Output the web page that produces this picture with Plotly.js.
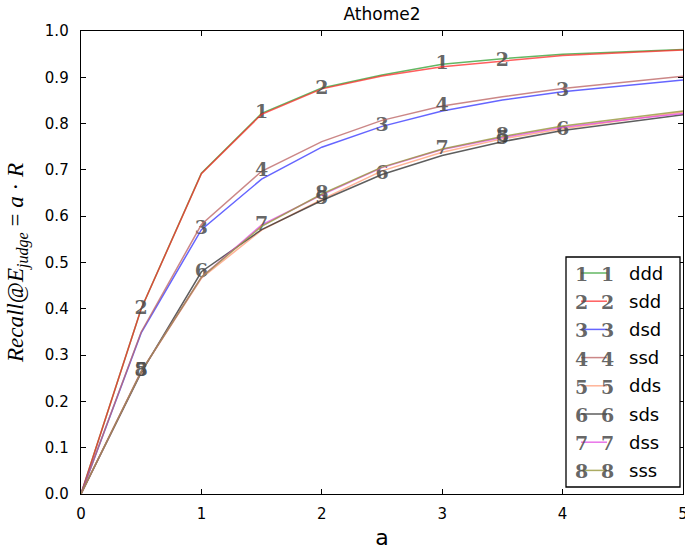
<!DOCTYPE html>
<html>
<head>
<meta charset="utf-8">
<script src="https://cdn.plot.ly/plotly-3.0.1.min.js"></script>
<style>html,body{margin:0;padding:0;background:#fff;}#chart{width:685px;height:550px;}</style>
</head>
<body>
<div id="chart"></div>
<script>
// ---- data ----
const aValues = [0, 0.5, 1, 1.5, 2, 2.5, 3, 3.5, 4, 4.5, 5];
const seriesNames = ["ddd", "sdd", "dsd", "ssd", "dds", "sds", "dss", "sss"];
const seriesDigits = ["1", "2", "3", "4", "5", "6", "7", "8"];
const ddd = [0, 0.400, 0.693, 0.822, 0.877, 0.905, 0.928, 0.940, 0.950, 0.955, 0.960];
const sdd = [0, 0.400, 0.692, 0.820, 0.875, 0.903, 0.923, 0.935, 0.947, 0.953, 0.959];
const dsd = [0, 0.348, 0.571, 0.680, 0.749, 0.794, 0.827, 0.851, 0.869, 0.882, 0.894];
const ssd = [0, 0.350, 0.582, 0.697, 0.761, 0.807, 0.838, 0.858, 0.876, 0.889, 0.902];
const dds = [0, 0.265, 0.466, 0.570, 0.636, 0.698, 0.738, 0.767, 0.789, 0.807, 0.825];
const sds = [0, 0.262, 0.480, 0.571, 0.634, 0.690, 0.731, 0.761, 0.785, 0.802, 0.819];
const dss = [0, 0.265, 0.468, 0.581, 0.646, 0.705, 0.744, 0.770, 0.792, 0.808, 0.822];
const sss = [0, 0.265, 0.468, 0.578, 0.648, 0.706, 0.745, 0.772, 0.795, 0.811, 0.827];
const seriesValues = [ddd, sdd, dsd, ssd, dds, sds, dss, sss];
// indices of the points that carry the digit marker
const markerIndex = [[3, 6], [1, 4, 7], [2, 5, 8], [3, 6], [1, 4, 7], [2, 5, 8], [3, 6], [1, 4, 7]];
const xTickVals = [0, 1, 2, 3, 4, 5];
const yTickVals = [0, 0.1, 0.2, 0.3, 0.4, 0.5, 0.6, 0.7, 0.8, 0.9, 1.0];
const yTickText = ["0.0","0.1","0.2","0.3","0.4","0.5","0.6","0.7","0.8","0.9","1.0"];

// ---- styles ----
const lineColors = [
  "rgba(60,165,60,0.8)",
  "rgba(255,40,40,0.75)",
  "rgba(50,50,255,0.75)",
  "rgba(190,105,105,0.8)",
  "rgba(255,160,125,0.8)",
  "rgba(40,40,40,0.75)",
  "rgba(225,70,225,0.75)",
  "rgba(150,150,60,0.8)"
];
const digitColor = "rgba(75,75,75,0.85)";
const digitFont = {family: "DejaVu Serif, Liberation Serif, serif", size: 19, color: digitColor, weight: 700};

const L = 81, R = 683, T = 31, B = 494, W = 685, H = 550;
const px2x = p => (p - L) / (R - L);
const px2y = p => (B - p) / (B - T);

const traces = [];
seriesValues.forEach((vals, i) => {
  traces.push({
    x: aValues, y: vals, type: "scatter", mode: "lines",
    line: {color: lineColors[i], width: 1.5},
    name: seriesNames[i], showlegend: false, hoverinfo: "skip"
  });
  traces.push({
    x: markerIndex[i].map(k => aValues[k]),
    y: markerIndex[i].map(k => vals[k]),
    type: "scatter", mode: "text",
    text: markerIndex[i].map(() => "<b>" + seriesDigits[i] + "</b>"),
    textposition: "middle center",
    textfont: digitFont,
    showlegend: false, hoverinfo: "skip", cliponaxis: false
  });
});

// ---- custom legend (matplotlib style) ----
const shapes = [];
const annotations = [];
const legLeft = 566, legRight = 680, legTop = 257, legBottom = 487;
shapes.push({type: "rect", xref: "paper", yref: "paper",
  x0: px2x(legLeft), x1: px2x(legRight), y0: px2y(legBottom), y1: px2y(legTop),
  line: {color: "#000", width: 1.3}, fillcolor: "#fff", layer: "above"});
seriesNames.forEach((nm, i) => {
  const yc = 273 + i * 28.2;
  shapes.push({type: "line", xref: "paper", yref: "paper",
    x0: px2x(581), x1: px2x(607), y0: px2y(yc), y1: px2y(yc),
    line: {color: lineColors[i], width: 1.5}, layer: "above"});
  [581, 607].forEach(xp => {
    annotations.push({xref: "paper", yref: "paper", x: px2x(xp), y: px2y(yc + 1),
      text: "<b>" + seriesDigits[i] + "</b>", showarrow: false,
      xanchor: "center", yanchor: "middle", font: digitFont});
  });
  annotations.push({xref: "paper", yref: "paper", x: px2x(627), y: px2y(yc),
    text: nm, showarrow: false, xanchor: "left", yanchor: "middle",
    font: {family: "DejaVu Sans, sans-serif", size: 18, color: "#000"}});
});

const layout = {
  width: W, height: H,
  margin: {l: L, r: W - R, t: T, b: H - B, pad: 0},
  paper_bgcolor: "#fff", plot_bgcolor: "#fff",
  title: {text: "Athome2", x: (L + R) / 2 / W, xanchor: "center", y: 1 - 14 / H, yanchor: "middle",
    font: {family: "DejaVu Sans, sans-serif", size: 17, color: "#000"}},
  xaxis: {
    range: [0, 5], tickvals: xTickVals, ticktext: xTickVals.map(String),
    ticks: "inside", ticklen: 5, tickwidth: 1, tickcolor: "#000",
    showline: true, linecolor: "#000", linewidth: 1.3, mirror: "ticks",
    showgrid: false, zeroline: false,
    tickfont: {family: "DejaVu Sans, sans-serif", size: 15, color: "#000"},
    ticklabelstandoff: 6, ticklabeloverflow: "allow",
    title: {text: "a", font: {family: "DejaVu Sans, sans-serif", size: 22, color: "#000"}, standoff: 10},
    automargin: false
  },
  yaxis: {
    range: [0, 1], tickvals: yTickVals, ticktext: yTickText,
    ticks: "inside", ticklen: 5, tickwidth: 1, tickcolor: "#000",
    showline: true, linecolor: "#000", linewidth: 1.3, mirror: "ticks",
    showgrid: false, zeroline: false,
    tickfont: {family: "DejaVu Sans, sans-serif", size: 15, color: "#000"},
    ticklabelstandoff: 8, ticklabeloverflow: "allow",
    title: {text: "<i>Recall</i>@<i>E</i><sub><i>judge</i></sub> = <i>a</i> · <i>R</i>",
      font: {family: "Liberation Serif, DejaVu Serif, serif", size: 23, color: "#000"}, standoff: 14},
    automargin: false
  },
  shapes: shapes,
  annotations: annotations,
  showlegend: false
};

Plotly.newPlot("chart", traces, layout, {displayModeBar: false, staticPlot: true});
</script>
</body>
</html>
